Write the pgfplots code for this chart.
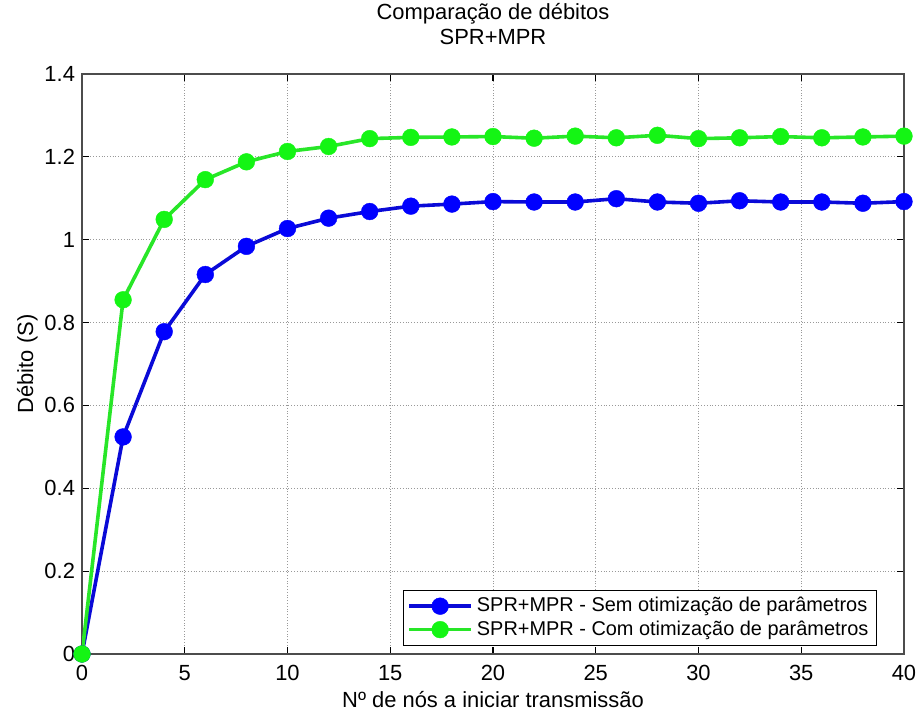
\documentclass[border=0pt]{standalone}
\usepackage{fontspec}
\setmainfont{Liberation Sans}
\usepackage{pgfplots}
\pgfplotsset{compat=1.18}

\definecolor{lineblue}{RGB}{10,10,215}
\definecolor{markblue}{RGB}{0,0,255}
\definecolor{linegreen}{RGB}{40,230,40}
\definecolor{markgreen}{RGB}{20,245,20}

\begin{document}
\begin{tikzpicture}
\begin{axis}[
  scale only axis,
  width=411bp, height=290bp,
  xmin=0, xmax=40, ymin=0, ymax=1.4,
  xtick={0,5,...,40},
  ytick={0,0.2,...,1.4},
  grid=major,
  major grid style={densely dotted, line width=0.4pt, black!40},
  axis line style={black!70, line width=0.6pt},
  tick style={black, line width=0.6pt},
  tick align=inside,
  major tick length=3.5bp,
  tick pos=both,
  /pgf/number format/assume math mode=true,
  ticklabel style={font=\fontsize{11}{13}\selectfont},
  xticklabel style={yshift=-2.3bp},
  label style={font=\fontsize{11}{13}\selectfont},
  xlabel={Nº de nós a iniciar transmissão},
  ylabel={Débito (S)},
  xlabel style={at={(axis description cs:0.5,-0.0931)}, anchor=base},
  ylabel style={at={(axis description cs:-0.0596,0.5)}, anchor=base},
  title={Comparação de débitos\\SPR+MPR},
  title style={font=\fontsize{11}{12.5}\selectfont, align=center,
    at={(axis description cs:0.5,1)}, anchor=south, inner sep=0pt, yshift=8.5bp},
  legend style={at={(0.967,0.014)}, anchor=south east,
    font=\fontsize{10}{12}\selectfont, draw=black, line width=0.5pt,
    inner xsep=2bp, inner ysep=1.5bp, row sep=-1bp},
  legend cell align=left,
  legend image code/.code={
    \draw[#1, mark repeat=2, mark phase=2] plot coordinates {(0bp,0bp) (15.5bp,0bp) (31bp,0bp)};
  },
]
\addplot[lineblue, line width=1.8bp, mark=*, mark size=4.2bp,
  mark options={fill=markblue, draw=markblue, line width=0.2bp}]
  coordinates {
  (0,0) (2,0.524) (4,0.778) (6,0.916) (8,0.984) (10,1.027) (12,1.052)
  (14,1.068) (16,1.081) (18,1.086) (20,1.092) (22,1.091) (24,1.091)
  (26,1.099) (28,1.091) (30,1.088) (32,1.094) (34,1.091) (36,1.091)
  (38,1.088) (40,1.092)
  };
\addlegendentry{SPR+MPR - Sem otimização de parâmetros}
\addplot[linegreen, line width=1.8bp, mark=*, mark size=4.2bp,
  mark options={fill=markgreen, draw=markgreen, line width=0.2bp}]
  coordinates {
  (0,0) (2,0.855) (4,1.049) (6,1.145) (8,1.188) (10,1.213) (12,1.225)
  (14,1.244) (16,1.247) (18,1.248) (20,1.249) (22,1.245) (24,1.250)
  (26,1.246) (28,1.252) (30,1.244) (32,1.246) (34,1.249) (36,1.246)
  (38,1.248) (40,1.250)
  };
\addlegendentry{SPR+MPR - Com otimização de parâmetros}
\coordinate (sw) at (rel axis cs:0,0);
\end{axis}
% fixed page frame around the axis and its labels
\pgfresetboundingbox
\path (sw) ++(-41bp,-28.5bp) rectangle ++(459.5bp,355.5bp);
\end{tikzpicture}
\end{document}
